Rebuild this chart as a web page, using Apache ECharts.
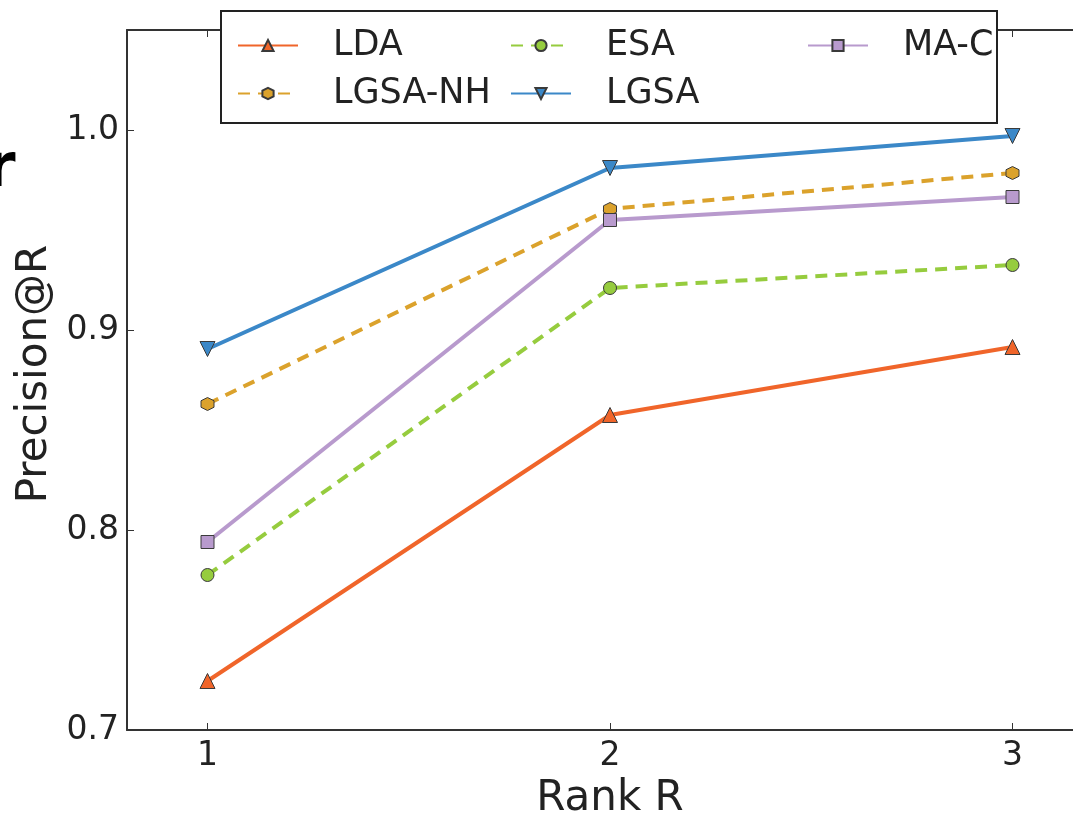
<!DOCTYPE html>
<html>
<head>
<meta charset="utf-8">
<script src="https://cdn.jsdelivr.net/npm/echarts@6/dist/echarts.min.js"></script>
<style>
  html, body { margin: 0; padding: 0; background: #fff; }
  #chart { width: 1073px; height: 817px; }
</style>
</head>
<body>
<div id="chart"></div>
<script>
  // rank positions on the x axis
  var ranks = [1, 2, 3];
  var xTicks = [1, 2, 3];
  var yTicks = [0.7, 0.8, 0.9, 1.0];

  // Precision@R per method
  var lda = [0.7245, 0.8575, 0.8915];
  var lgsaNH = [0.863, 0.9605, 0.9785];
  var esa = [0.7775, 0.921, 0.9325];
  var lgsa = [0.8905, 0.981, 0.997];
  var mac = [0.794, 0.955, 0.9665];

  var hexagon = 'path://M0,-1L0.866,-0.5L0.866,0.5L0,1L-0.866,0.5L-0.866,-0.5Z';
  var font = 'DejaVu Sans';

  function pairs(vals) {
    var out = [];
    for (var i = 0; i < ranks.length; i++) {
      out.push([ranks[i], vals[i]]);
    }
    return out;
  }

  function line(name, vals, color, symbol, size, dashed, rotate) {
    return {
      name: name,
      type: 'line',
      data: pairs(vals),
      symbol: symbol,
      symbolSize: size,
      symbolRotate: rotate || 0,
      showAllSymbol: true,
      lineStyle: { color: color, width: 4, type: dashed ? [12, 8] : 'solid' },
      itemStyle: { color: color, borderColor: '#3a3a3a', borderWidth: 1 },
      emphasis: { disabled: true },
      animation: false,
      z: 3
    };
  }

  var myChart = echarts.init(document.getElementById('chart'));

  var legendText = { fontFamily: font, fontSize: 35, color: '#222', padding: [0, 0, 0, 30] };

  myChart.setOption({
    backgroundColor: '#fff',
    animation: false,
    grid: { left: 127, top: 30, width: 966, height: 700, containLabel: false, outerBoundsMode: 'none' },
    legend: [
      { orient: 'vertical', left: 232, top: 23, itemWidth: 60, itemHeight: 14, itemGap: 13,
        data: ['LDA', 'LGSA-NH'], textStyle: legendText, selectedMode: false },
      { orient: 'vertical', left: 505, top: 23, itemWidth: 60, itemHeight: 14, itemGap: 13,
        data: ['ESA', 'LGSA'], textStyle: legendText, selectedMode: false },
      { orient: 'vertical', left: 802, top: 23, itemWidth: 60, itemHeight: 14, itemGap: 13,
        data: ['MA-C'], textStyle: legendText, selectedMode: false }
    ],
    graphic: [
      { type: 'rect', z: 3, shape: { x: 221, y: 11, width: 776, height: 112 },
        style: { fill: '#fff', stroke: '#222', lineWidth: 2 } },
      { type: 'text', z: 3, x: -14, y: 140,
        style: { text: 'r', fontFamily: font, fontSize: 60, fontWeight: 'bold', fill: '#000' } }
    ],
    xAxis: [
      {
        type: 'value', min: 0.8, max: 3.2,
        name: 'Rank R', nameLocation: 'middle', nameGap: 44,
        nameTextStyle: { fontFamily: font, fontSize: 42, color: '#222' },
        axisLine: { show: true, onZero: false, lineStyle: { color: '#333', width: 2 } },
        axisTick: { show: true, inside: true, length: 7, customValues: xTicks, lineStyle: { color: '#333', width: 1 } },
        axisLabel: { customValues: xTicks, fontFamily: font, fontSize: 33, color: '#222', margin: 10 },
        splitLine: { show: false }
      },
      {
        type: 'value', min: 0.8, max: 3.2, position: 'top',
        axisLine: { show: true, onZero: false, lineStyle: { color: '#333', width: 2 } },
        axisTick: { show: true, inside: true, length: 7, customValues: xTicks, lineStyle: { color: '#333', width: 1 } },
        axisLabel: { show: false },
        splitLine: { show: false }
      }
    ],
    yAxis: {
      type: 'value', min: 0.7, max: 1.05,
      name: 'Precision@R', nameLocation: 'middle', nameGap: 63, nameRotate: 90,
      nameTextStyle: { fontFamily: font, fontSize: 42, color: '#222', padding: [0, 0, 0, 12] },
      axisLine: { show: true, onZero: false, lineStyle: { color: '#333', width: 2 } },
      axisTick: { show: true, inside: true, length: 7, customValues: yTicks, lineStyle: { color: '#333', width: 1 } },
      axisLabel: {
        customValues: yTicks, fontFamily: font, fontSize: 33, color: '#222', margin: 8,
        formatter: function (v) { return v.toFixed(1); }
      },
      splitLine: { show: false }
    },
    series: [
      line('LDA', lda, '#F0652A', 'triangle', 15, false),
      line('LGSA-NH', lgsaNH, '#DBA22C', hexagon, 13, true),
      line('ESA', esa, '#96CC3E', 'circle', 13, true),
      line('LGSA', lgsa, '#3B88C8', 'triangle', 15, false, 180),
      line('MA-C', mac, '#B89ACD', 'rect', 13, false)
    ]
  });
</script>
</body>
</html>
